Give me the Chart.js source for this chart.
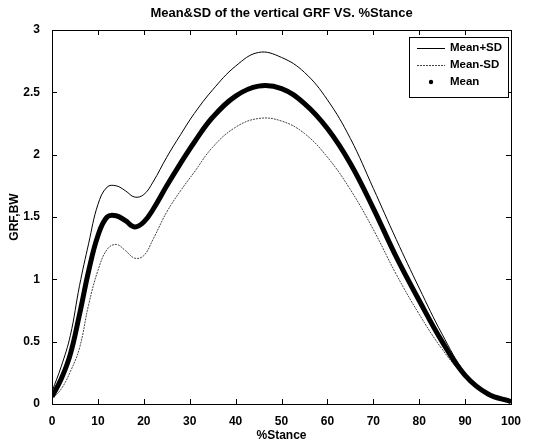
<!DOCTYPE html>
<html>
<head>
<meta charset="utf-8">
<script src="https://cdn.jsdelivr.net/npm/chart.js@4"></script>
<style>
html, body { margin: 0; padding: 0; background: #fff; }
</style>
</head>
<body>
<canvas id="myChart" width="540" height="445"></canvas>
<script>
var chartTitle = "Mean&SD of the vertical GRF VS. %Stance";
var stance = [0, 2, 4, 6, 8, 10, 12, 14, 16, 18, 20, 22, 25, 28, 31, 35, 40, 45, 50, 55, 60, 65, 70, 75, 80, 85, 90, 95, 100];
var meanPlusSD = [0.10, 0.30, 0.55, 0.95, 1.29, 1.60, 1.74, 1.75, 1.71, 1.66, 1.68, 1.78, 1.98, 2.16, 2.33, 2.52, 2.71, 2.82, 2.78, 2.66, 2.44, 2.13, 1.73, 1.32, 0.93, 0.56, 0.25, 0.07, 0.01];
var meanMinusSD = [0.04, 0.12, 0.26, 0.45, 0.80, 1.07, 1.24, 1.28, 1.23, 1.17, 1.19, 1.32, 1.54, 1.71, 1.86, 2.06, 2.22, 2.29, 2.27, 2.17, 1.98, 1.72, 1.40, 1.04, 0.72, 0.44, 0.22, 0.08, 0.02];
var meanGRF = [0.06, 0.20, 0.40, 0.72, 1.07, 1.35, 1.50, 1.51, 1.47, 1.42, 1.46, 1.56, 1.75, 1.93, 2.10, 2.30, 2.47, 2.55, 2.53, 2.41, 2.21, 1.93, 1.57, 1.18, 0.83, 0.50, 0.23, 0.08, 0.02];
var xTicks = [0, 10, 20, 30, 40, 50, 60, 70, 80, 90, 100];
var yTicks = [0, 0.5, 1, 1.5, 2, 2.5, 3];

Chart.defaults.font.family = '"Liberation Sans", Arial, Helvetica, sans-serif';
Chart.defaults.color = '#000';

function toPoints(values) {
    return values.map(function (v, i) { return { x: stance[i], y: v }; });
}

var frameAndLegend = {
    id: 'frameAndLegend',
    afterDraw: function (chart) {
        var ctx = chart.ctx;
        var a = chart.chartArea;
        var xs = chart.scales.x, ys = chart.scales.y;
        ctx.save();
        ctx.strokeStyle = '#000';
        ctx.lineWidth = 1;
        ctx.setLineDash([]);
        ctx.strokeRect(a.left + 0.5, a.top + 0.5, a.right - a.left, a.bottom - a.top);
        ctx.beginPath();
        xTicks.forEach(function (v) {
            var px = Math.round(xs.getPixelForValue(v)) + 0.5;
            ctx.moveTo(px, a.bottom); ctx.lineTo(px, a.bottom - 5);
            ctx.moveTo(px, a.top); ctx.lineTo(px, a.top + 5);
        });
        yTicks.forEach(function (v) {
            var py = Math.round(ys.getPixelForValue(v)) + 0.5;
            ctx.moveTo(a.left, py); ctx.lineTo(a.left + 5, py);
            ctx.moveTo(a.right, py); ctx.lineTo(a.right - 5, py);
        });
        ctx.stroke();

        // title centred over the plot
        ctx.fillStyle = '#000';
        ctx.font = 'bold 13px "Liberation Sans", Arial, sans-serif';
        ctx.textAlign = 'center';
        ctx.textBaseline = 'middle';
        ctx.fillText(chartTitle, (a.left + a.right) / 2, 13);

        // legend box inside the plot, top right
        var bw = 99, bh = 60;
        var bx = a.right - bw - 3, by = a.top + 7;
        ctx.fillStyle = '#fff';
        ctx.fillRect(bx, by, bw, bh);
        ctx.strokeRect(bx + 0.5, by + 0.5, bw, bh);
        ctx.font = 'bold 11.5px "Liberation Sans", Arial, sans-serif';
        ctx.textAlign = 'left';
        var sets = chart.data.datasets;
        for (var i = 0; i < sets.length; i++) {
            var ds = sets[i];
            var ly = by + 11 + i * 17;
            ctx.strokeStyle = ds.borderColor;
            ctx.fillStyle = '#000';
            if (ds.legendDot) {
                ctx.beginPath();
                ctx.arc(bx + 22, ly, 2.2, 0, Math.PI * 2);
                ctx.fill();
            } else {
                ctx.lineWidth = 1;
                ctx.setLineDash(ds.borderDash || []);
                ctx.beginPath();
                ctx.moveTo(bx + 8, ly + 0.5);
                ctx.lineTo(bx + 36, ly + 0.5);
                ctx.stroke();
                ctx.setLineDash([]);
            }
            ctx.fillStyle = '#000';
            ctx.fillText(ds.label, bx + 41, ly);
        }
        ctx.restore();
    }
};

var ctx = document.getElementById('myChart').getContext('2d');
var myChart = new Chart(ctx, {
    type: 'line',
    data: {
        datasets: [{
            label: 'Mean+SD',
            data: toPoints(meanPlusSD),
            borderColor: '#000',
            borderWidth: 1,
            order: 2
        }, {
            label: 'Mean-SD',
            data: toPoints(meanMinusSD),
            borderColor: '#444',
            borderWidth: 1,
            borderDash: [2, 1],
            order: 1
        }, {
            label: 'Mean',
            data: toPoints(meanGRF),
            borderColor: '#000',
            borderWidth: 5,
            legendDot: true,
            order: 0
        }]
    },
    options: {
        responsive: false,
        animation: false,
        events: [],
        layout: { padding: { top: 30, right: 29, left: 0, bottom: 0 } },
        elements: {
            point: { radius: 0 },
            line: { tension: 0.4, fill: false }
        },
        plugins: {
            legend: { display: false },
            title: { display: false },
            tooltip: { enabled: false }
        },
        scales: {
            x: {
                type: 'linear',
                min: 0,
                max: 100,
                grid: { display: false },
                border: { display: false },
                afterBuildTicks: function (scale) {
                    scale.ticks = xTicks.map(function (v) { return { value: v }; });
                },
                afterFit: function (scale) { scale.height = 41; },
                ticks: { font: { size: 12, weight: 'bold' }, padding: 2, maxRotation: 0, autoSkip: false,
                    callback: function (v) { return String(v); } },
                title: { display: true, text: '%Stance', font: { size: 12, weight: 'bold' }, padding: { top: 0, bottom: 2 } }
            },
            y: {
                min: 0,
                max: 3,
                grid: { display: false },
                border: { display: false },
                afterBuildTicks: function (scale) {
                    scale.ticks = yTicks.map(function (v) { return { value: v }; });
                },
                afterFit: function (scale) { scale.width = 52; },
                ticks: { font: { size: 12, weight: 'bold' }, padding: 4,
                    callback: function (v) { return String(v); } },
                title: { display: true, text: 'GRF,BW', font: { size: 12, weight: 'bold' }, padding: { top: 7, bottom: 0 } }
            }
        }
    },
    plugins: [frameAndLegend]
});
</script>
</body>
</html>
